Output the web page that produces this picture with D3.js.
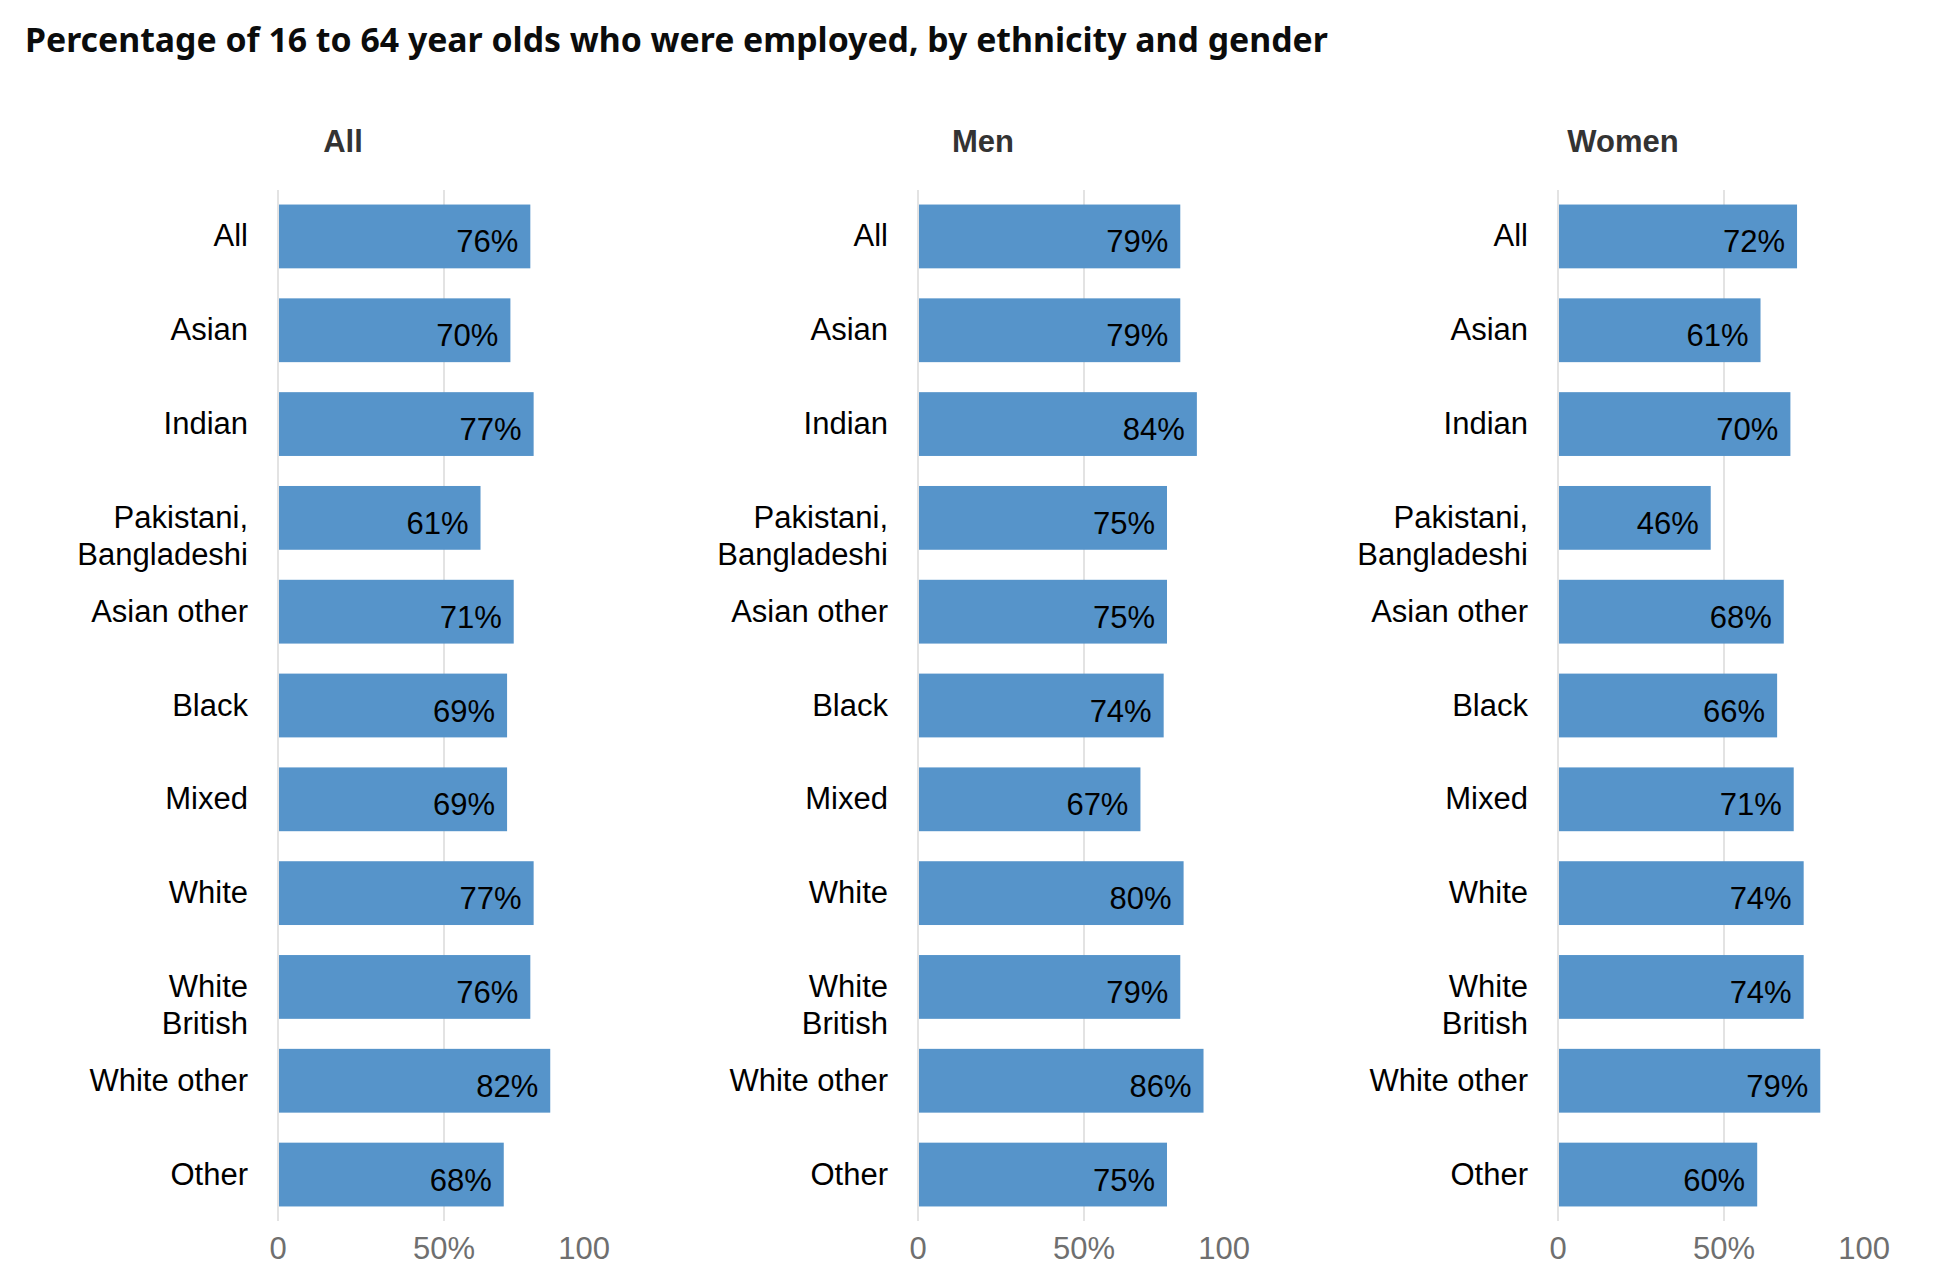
<!DOCTYPE html>
<html>
<head>
<meta charset="utf-8">
<script src="https://cdn.jsdelivr.net/npm/d3@7"></script>
<style>
  body { margin: 0; background: #fff; }
  svg text { font-family: "Liberation Sans", Arial, sans-serif; }
</style>
</head>
<body>
<div id="chart"></div>
<script>
var svgWidth = 1946;
var svgHeight = 1288;

// data
var ethnicities = ["All", "Asian", "Indian", "Pakistani, Bangladeshi", "Asian other",
  "Black", "Mixed", "White", "White British", "White other", "Other"];
var panels = ["All", "Men", "Women"];
var allValues   = [76, 70, 77, 61, 71, 69, 69, 77, 76, 82, 68];
var menValues   = [79, 79, 84, 75, 75, 74, 67, 80, 79, 86, 75];
var womenValues = [72, 61, 70, 46, 68, 66, 71, 74, 74, 79, 60];
var tickValues = [0, 50, 100];
var tickLabels = ["0", "50%", "100"];

var series = [allValues, menValues, womenValues];

var margin = { top: 190, left: 278, bottom: 67 };
var panelStep = 640;
var panelWidth = 332;

var svg = d3.select("#chart")
  .append("svg")
  .attr("width", svgWidth)
  .attr("height", svgHeight);

svg.append("text")
  .attr("x", 25)
  .attr("y", 52)
  .attr("font-size", 33.8)
  .attr("font-weight", "bold")
  .style("font-family", "'Noto Sans', sans-serif")
  .attr("fill", "#0b0c0c")
  .text("Percentage of 16 to 64 year olds who were employed, by ethnicity and gender");

var x = d3.scaleLinear().domain([0, 100]).range([0, panelWidth]);
var y = d3.scaleBand()
  .domain(ethnicities)
  .range([margin.top, svgHeight - margin.bottom])
  .paddingInner(0.32)
  .paddingOuter(0.155);

panels.forEach(function(name, i) {
  var g = svg.append("g")
    .attr("transform", "translate(" + (margin.left + i * panelStep) + ",0)");

  var rows = ethnicities.map(function(e, j) {
    return { name: e, value: series[i][j] };
  });

  // gridlines
  g.selectAll(".grid")
    .data([0, 50])
    .enter()
    .append("line")
    .attr("x1", d => x(d))
    .attr("x2", d => x(d))
    .attr("y1", margin.top)
    .attr("y2", svgHeight - margin.bottom)
    .attr("stroke", "#e3e3e3")
    .attr("stroke-width", 2);

  // panel header
  g.append("text")
    .attr("x", 65)
    .attr("y", 152)
    .attr("text-anchor", "middle")
    .attr("font-size", 31)
    .attr("font-weight", "bold")
    .attr("fill", "#333")
    .text(name);

  g.selectAll("rect")
    .data(rows)
    .enter()
    .append("rect")
    .attr("x", x(0) + 1)
    .attr("y", d => y(d.name))
    .attr("width", d => x(d.value) - x(0) - 1)
    .attr("height", y.bandwidth())
    .attr("fill", "#5694ca");

  g.selectAll(".val")
    .data(rows)
    .enter()
    .append("text")
    .attr("class", "val")
    .attr("x", d => x(d.value) - 12)
    .attr("y", d => y(d.name) + y.bandwidth() / 2 + 16)
    .attr("text-anchor", "end")
    .attr("font-size", 31)
    .attr("fill", "#000")
    .text(d => d.value + "%");

  // category labels, wrapped when too wide
  g.selectAll(".cat")
    .data(rows)
    .enter()
    .append("text")
    .attr("class", "cat")
    .attr("text-anchor", "end")
    .attr("font-size", 31)
    .attr("fill", "#000")
    .each(function(d) {
      var t = d3.select(this);
      var cy = y(d.name) + y.bandwidth() / 2 + 10;
      t.text(d.name);
      var lines = [d.name];
      if (this.getComputedTextLength() > 166) {
        var words = d.name.split(" ");
        lines = [words[0], words.slice(1).join(" ")];
      }
      t.text(null);
      lines.forEach(function(l, k) {
        t.append("tspan")
          .attr("x", -30)
          .attr("y", cy + k * 37)
          .text(l);
      });
    });

  // axis tick labels
  g.selectAll(".tick")
    .data(tickValues)
    .enter()
    .append("text")
    .attr("class", "tick")
    .attr("x", d => x(d))
    .attr("y", 1259)
    .attr("text-anchor", (d, k) => k == tickValues.length - 1 ? "end" : "middle")
    .attr("font-size", 31)
    .attr("fill", "#6f6f6f")
    .text((d, k) => tickLabels[k]);
});
</script>
</body>
</html>
